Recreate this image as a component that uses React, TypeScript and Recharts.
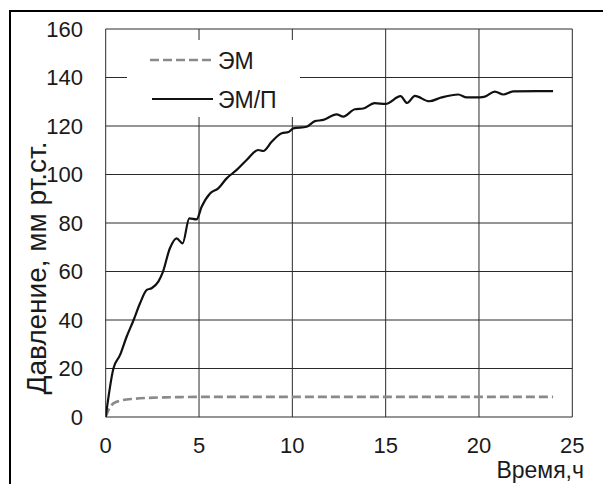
import React from 'react';
import { LineChart, Line, XAxis, YAxis, CartesianGrid } from 'recharts';

// ЭМ/П series (solid black)
const empTime = [0, 0.41, 0.77, 1.12, 1.48, 1.84, 2.2, 2.46, 2.82, 3.05, 3.44, 3.8, 4.12, 4.48, 4.87, 5.14, 5.59, 6.03, 6.48, 7.02, 7.55, 8.17, 8.44, 8.89, 9.43, 9.8, 10.05, 10.77, 11.21, 11.66, 12.37, 12.73, 13.35, 13.8, 14.4, 15.0, 15.8, 16.15, 16.57, 17.33, 18.0, 18.89, 19.34, 20.05, 20.32, 20.85, 21.3, 21.83, 23.97];
const empPressure = [0, 19.9, 25.6, 33.1, 39.7, 46.9, 52.4, 53.1, 55.8, 59.5, 69.6, 73.7, 71.6, 81.9, 81.5, 86.7, 92.2, 94.3, 98.4, 101.9, 106, 110.1, 109.7, 113.5, 117, 117.5, 119, 119.7, 122, 122.5, 124.8, 123.9, 126.9, 127.2, 129.4, 129.1, 132.3, 129.5, 132.4, 130.2, 131.8, 133, 131.8, 131.8, 132.1, 134.2, 133, 134.3, 134.4];

// ЭМ series (dashed gray)
const emTime = [0, 0.2, 0.41, 0.94, 1.5, 1.84, 3.2, 4, 5, 10, 15, 20, 23.97];
const emPressure = [0, 3.5, 5.6, 7.0, 7.5, 7.7, 8.1, 8.2, 8.3, 8.3, 8.3, 8.3, 8.3];

const xTicks = [0, 5, 10, 15, 20, 25];
const yTicks = [0, 20, 40, 60, 80, 100, 120, 140, 160];

const seriesNames = ['ЭМ', 'ЭМ/П'];
const xTitle = 'Время,ч';
const yTitle = 'Давление, мм рт.ст.';

const empData = empTime.map((t, i) => ({ t, v: empPressure[i] }));
const emData = emTime.map((t, i) => ({ t, v: emPressure[i] }));

const FONT = '"Liberation Sans", Arial, sans-serif';
const TICK_FS = 22;

const YTick = (props: any) => {
  const { y, payload } = props;
  return (
    <text x={75} y={y} textAnchor="end" dominantBaseline="central" fontSize={TICK_FS} fill="#1a1a1a" fontFamily={FONT}>
      {payload.value}
    </text>
  );
};

const XTick = (props: any) => {
  const { x, payload } = props;
  return (
    <text x={x} y={437.5} textAnchor="middle" dominantBaseline="central" fontSize={TICK_FS} fill="#1a1a1a" fontFamily={FONT}>
      {payload.value}
    </text>
  );
};

export default function App() {
  return (
    <div style={{ position: 'relative', width: 603, height: 476, overflow: 'hidden', fontFamily: FONT }}>
      <div style={{ position: 'absolute', left: 1, top: 2, width: 700, height: 700, border: '2px solid #000', boxSizing: 'border-box' }} />
      <div style={{ position: 'absolute', left: 0, top: 0 }}>
        <LineChart width={603} height={476} margin={{ top: 21, right: 38.7, bottom: 0, left: 0 }}>
          <CartesianGrid stroke="#2a2a2a" strokeWidth={1} horizontalValues={yTicks} verticalValues={xTicks} />
          <XAxis
            type="number"
            dataKey="t"
            domain={[0, 25]}
            ticks={xTicks}
            height={67}
            tickLine={false}
            axisLine={false}
            tick={<XTick />}
            allowDataOverflow
          />
          <YAxis
            type="number"
            dataKey="v"
            domain={[0, 160]}
            ticks={yTicks}
            width={97.7}
            tickLine={false}
            axisLine={false}
            tick={<YTick />}
          />
          <Line
            data={emData}
            dataKey="v"
            name={seriesNames[0]}
            type="monotone"
            stroke="#8a8a8a"
            strokeWidth={2.6}
            strokeDasharray="9 4"
            dot={false}
            isAnimationActive={false}
          />
          <Line
            data={empData}
            dataKey="v"
            name={seriesNames[1]}
            type="monotone"
            stroke="#111"
            strokeWidth={2.2}
            dot={false}
            isAnimationActive={false}
          />
        </LineChart>
      </div>
      <svg width={603} height={476} style={{ position: 'absolute', left: 0, top: 0, pointerEvents: 'none' }}>
        <rect x={119} y={32} width={173} height={77} fill="#fff" />
        <line x1={142} y1={52} x2={205} y2={52} stroke="#8a8a8a" strokeWidth={2.6} strokeDasharray="9 4" />
        <text x={210} y={53} dominantBaseline="central" fontSize={23} fill="#1a1a1a" fontFamily={FONT}>{seriesNames[0]}</text>
        <line x1={144} y1={91} x2={205} y2={91} stroke="#111" strokeWidth={2.2} />
        <text x={210} y={92} dominantBaseline="central" fontSize={23} fill="#1a1a1a" fontFamily={FONT}>{seriesNames[1]}</text>
        <text x={576} y={470} textAnchor="end" fontSize={23} fill="#1a1a1a" fontFamily={FONT}>{xTitle}</text>
        <text x={0} y={0} transform="translate(28.5,260) rotate(-90)" textAnchor="middle" dominantBaseline="central" fontSize={28} fill="#1a1a1a" fontFamily={FONT}>{yTitle}</text>
      </svg>
    </div>
  );
}
